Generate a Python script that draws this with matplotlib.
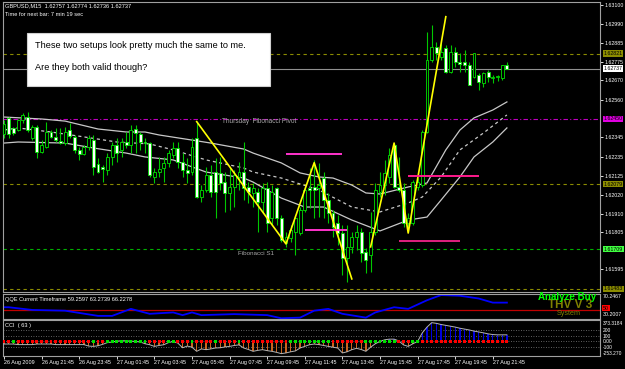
import matplotlib
matplotlib.use('Agg')
import matplotlib.pyplot as plt
import matplotlib.transforms as mtransforms
from matplotlib.patches import Rectangle

plt.rcParams['font.family'] = ['Liberation Sans', 'DejaVu Sans']

# ---------------- data ----------------
symbol_header = 'GBPUSD,M15  1.62757 1.62774 1.62736 1.62737'
timer_text = 'Time for next bar: 7 min 19 sec'

opens = [1.62364, 1.62456, 1.62399, 1.62387, 1.62444, 1.62461, 1.62342, 1.62404, 1.62262, 1.62291,
         1.62376, 1.62348, 1.62325, 1.62313, 1.62387, 1.62348, 1.62274, 1.62251, 1.62291, 1.62330,
         1.62194, 1.62177, 1.62160, 1.62234, 1.62302, 1.62274, 1.62319, 1.62302, 1.62393, 1.62364,
         1.62319, 1.62313, 1.62120, 1.62148, 1.62171, 1.62200, 1.62245, 1.62285, 1.62205, 1.62160,
         1.62148, 1.62342, 1.62006, 1.62046, 1.62131, 1.62148, 1.62143, 1.62091, 1.62029, 1.62063,
         1.62120, 1.62148, 1.62063, 1.62029, 1.62035, 1.61978, 1.62057, 1.61887, 1.62057, 1.61887,
         1.61744, 1.61773, 1.61807, 1.61801, 1.61932, 1.62057, 1.62063, 1.62057, 1.62114, 1.61989,
         1.61915, 1.61858, 1.61801, 1.61659, 1.61722, 1.61778, 1.61807, 1.61693, 1.61676, 1.61807,
         1.62035, 1.62074, 1.62120, 1.62302, 1.62063, 1.62046, 1.61858, 1.61858, 1.62063, 1.62074,
         1.62376, 1.62786, 1.62860, 1.62803, 1.62854, 1.62717, 1.62831, 1.62774, 1.62774, 1.62757,
         1.62689, 1.62700, 1.62655, 1.62717, 1.62683, 1.62689, 1.62683, 1.62757]
highs = [1.62444, 1.62461, 1.62404, 1.62450, 1.62484, 1.62490, 1.62416, 1.62416, 1.62330, 1.62433,
         1.62387, 1.62399, 1.62399, 1.62404, 1.62427, 1.62359, 1.62291, 1.62302, 1.62359, 1.62359,
         1.62228, 1.62188, 1.62256, 1.62319, 1.62342, 1.62342, 1.62376, 1.62416, 1.62416, 1.62376,
         1.62342, 1.62319, 1.62171, 1.62234, 1.62234, 1.62274, 1.62319, 1.62319, 1.62256, 1.62228,
         1.62342, 1.62433, 1.62074, 1.62177, 1.62188, 1.62228, 1.62234, 1.62148, 1.62171, 1.62160,
         1.62205, 1.62319, 1.62091, 1.62086, 1.62057, 1.62086, 1.62091, 1.62074, 1.62063, 1.61904,
         1.61807, 1.61847, 1.61904, 1.61949, 1.62063, 1.62171, 1.62217, 1.62200, 1.62148, 1.62029,
         1.61932, 1.61904, 1.61847, 1.61847, 1.61807, 1.61847, 1.61830, 1.61716, 1.61921, 1.62086,
         1.62148, 1.62217, 1.62285, 1.62313, 1.62234, 1.62086, 1.61915, 1.62103, 1.62114, 1.62387,
         1.62945, 1.62985, 1.62888, 1.62888, 1.62871, 1.62871, 1.62860, 1.62825, 1.62843, 1.62774,
         1.62825, 1.62712, 1.62717, 1.62729, 1.62700, 1.62700, 1.62757, 1.62774]
lows = [1.62342, 1.62342, 1.62359, 1.62382, 1.62427, 1.62376, 1.62330, 1.62228, 1.62256, 1.62285,
        1.62342, 1.62319, 1.62308, 1.62302, 1.62342, 1.62256, 1.62217, 1.62245, 1.62274, 1.62131,
        1.62143, 1.62091, 1.62131, 1.62188, 1.62205, 1.62234, 1.62285, 1.62256, 1.62256, 1.62274,
        1.62256, 1.62120, 1.62086, 1.62120, 1.62091, 1.62177, 1.62228, 1.62171, 1.62120, 1.62086,
        1.62131, 1.62000, 1.61978, 1.62035, 1.62006, 1.61887, 1.62046, 1.61921, 1.61932, 1.61949,
        1.62046, 1.61989, 1.61972, 1.61949, 1.61807, 1.61915, 1.61807, 1.61847, 1.61847, 1.61750,
        1.61722, 1.61750, 1.61676, 1.61790, 1.61921, 1.61944, 1.61887, 1.61892, 1.61887, 1.61858,
        1.61778, 1.61733, 1.61562, 1.61522, 1.61687, 1.61705, 1.61636, 1.61574, 1.61579, 1.61790,
        1.62006, 1.62017, 1.62086, 1.62057, 1.62035, 1.61835, 1.61807, 1.61847, 1.62046, 1.62063,
        1.62370, 1.62774, 1.62786, 1.62786, 1.62712, 1.62712, 1.62746, 1.62717, 1.62717, 1.62643,
        1.62683, 1.62615, 1.62632, 1.62660, 1.62655, 1.62666, 1.62672, 1.62736]
closes = [1.62421, 1.62364, 1.62370, 1.62444, 1.62473, 1.62387, 1.62404, 1.62262, 1.62302, 1.62376,
          1.62348, 1.62330, 1.62313, 1.62376, 1.62353, 1.62274, 1.62251, 1.62291, 1.62342, 1.62177,
          1.62148, 1.62165, 1.62234, 1.62302, 1.62256, 1.62319, 1.62302, 1.62387, 1.62370, 1.62319,
          1.62313, 1.62131, 1.62148, 1.62165, 1.62200, 1.62256, 1.62285, 1.62205, 1.62160, 1.62143,
          1.62291, 1.62006, 1.62046, 1.62131, 1.62035, 1.62035, 1.62086, 1.62029, 1.62063, 1.62131,
          1.62148, 1.62057, 1.62035, 1.62057, 1.61978, 1.62057, 1.61858, 1.62035, 1.61887, 1.61761,
          1.61778, 1.61818, 1.61887, 1.61932, 1.62046, 1.62046, 1.62046, 1.62074, 1.61989, 1.61915,
          1.61835, 1.61801, 1.61659, 1.61722, 1.61778, 1.61807, 1.61687, 1.61648, 1.61807, 1.62046,
          1.62074, 1.62143, 1.62245, 1.62063, 1.62046, 1.61858, 1.61887, 1.62091, 1.62091, 1.62376,
          1.62786, 1.62860, 1.62825, 1.62831, 1.62717, 1.62831, 1.62774, 1.62763, 1.62757, 1.62643,
          1.62825, 1.62660, 1.62712, 1.62689, 1.62689, 1.62695, 1.62757, 1.62737]

# envelope / moving-average band (bar index, price)
upper_k = [0, 8, 13, 20, 26, 30, 33, 40, 44, 51, 53, 59, 63, 67, 70, 74, 77, 80, 86, 90, 94, 97, 100, 104, 107]
upper_v = [1.62461, 1.62450, 1.62438, 1.62393, 1.62376, 1.62376, 1.62359, 1.62330, 1.62313, 1.62279,
           1.62256, 1.62200, 1.62143, 1.62120, 1.62114, 1.62074, 1.62029, 1.62023, 1.62063, 1.62086,
           1.62274, 1.62387, 1.62456, 1.62501, 1.62547]
mid_k = [0, 3, 10, 17, 24, 31, 36, 43, 51, 53, 59, 67, 74, 80, 86, 89, 93, 97, 102, 107]
mid_v = [1.62387, 1.62399, 1.62376, 1.62348, 1.62319, 1.62308, 1.62274, 1.62217, 1.62171, 1.62148,
         1.62114, 1.62046, 1.61949, 1.61921, 1.61972, 1.62006, 1.62120, 1.62274, 1.62370, 1.62473]
lower_k = [0, 3, 13, 19, 26, 30, 36, 43, 51, 53, 59, 64, 68, 74, 80, 86, 90, 93, 97, 100, 104, 107]
lower_v = [1.62313, 1.62319, 1.62313, 1.62285, 1.62256, 1.62234, 1.62217, 1.62148, 1.62114, 1.62091,
           1.62000, 1.61949, 1.61949, 1.61875, 1.61813, 1.61875, 1.61892, 1.61989, 1.62120, 1.62234,
           1.62319, 1.62399]

# hand-drawn zigzags
zz1_k = [41, 60, 66, 74]
zz1_v = [1.62435, 1.61739, 1.62201, 1.61540]
zz2_k = [78, 83, 86, 94]
zz2_v = [1.61722, 1.62313, 1.61801, 1.63032]

# magenta horizontal segments (start bar, end bar, price)
seg_start = [60, 64, 86, 84]
seg_end = [72, 73, 101, 97]
seg_price = [1.62251, 1.61817, 1.62126, 1.61758]
seg_color = ['#ff33cc', '#ff33cc', '#ff1a8c', '#e0207f']

# horizontal levels
olive_levels = [1.62821, 1.62079, 1.61483]
current_price = 1.62737
pivot_level = 1.62450
s1_level = 1.61709

price_ticks = [1.63100, 1.62990, 1.62885, 1.62775, 1.62670, 1.62560, 1.62345, 1.62235,
               1.62125, 1.62020, 1.61910, 1.61805, 1.61595]

# QQE
qqe_k = [0, 1, 6, 13, 20, 23, 27, 31, 36, 38, 40, 42, 49, 56, 59, 63, 66, 69, 72, 77, 79, 83, 86,
         90, 93, 97, 101, 104, 107]
qqe_v = [53.8, 53.8, 49.5, 48.3, 40.0, 40.0, 51.2, 43.3, 45.5, 41.2, 45.5, 41.2, 42.8, 41.2, 36.2,
         37.2, 48.3, 51.2, 43.3, 37.2, 45.5, 53.8, 51.2, 65.0, 73.3, 72.2, 67.8, 61.2, 61.2]
qqe_title = 'QQE Current Timeframe 59.2597 63.2739 66.2278'

# CCI(63)
cci = [-45, -45, -45, -55, -55, -55, -55, -45, -45, -45,
       -45, -55, -55, -55, -55, -55, -55, -55, -80, -86,
       -75, -50, -20, -10, 5, 12, 10, 5, 0, -10,
       -40, -57, -86, -70, -57, -20, 0, -29, -110, -80,
       -100, -172, -130, -143, -130, -114, -110, -95, -86, -70,
       -60, -114, -140, -172, -155, -143, -160, -172, -190, -212,
       -200, -180, -165, -114, -85, -57, -45, -55, -70, -86,
       -100, -114, -200, -180, -143, -120, -140, -172, -100, -40,
       0, 29, 40, 40, 10, -60, -86, -40, 0, 150,
       250, 327, 315, 295, 280, 265, 250, 230, 215, 200,
       180, 165, 150, 132, 120, 115, 115, 115]
cci_state = ['r', 'r', 'g', 'r', 'r', 'r', 'r', 'r', 'r', 'r',
             'r', 'r', 'r', 'r', 'r', 'r', 'r', 'r', 'r', 'g',
             'r', 'r', 'g', 'g', 'g', 'g', 'g', 'g', 'g', 'g',
             'g', 'r', 'r', 'r', 'r', 'g', 'g', 'r', 'r', 'r',
             'g', 'r', 'r', 'r', 'r', 'g', 'r', 'r', 'r', 'r',
             'g', 'r', 'r', 'r', 'r', 'r', 'r', 'r', 'r', 'r',
             'r', 'g', 'g', 'g', 'g', 'g', 'g', 'g', 'g', 'g',
             'r', 'r', 'r', 'r', 'r', 'r', 'r', 'g', 'g', 'g',
             'g', 'g', 'g', 'g', 'r', 'r', 'r', 'g', 'g', 'r',
             'r', 'r', 'r', 'r', 'r', 'r', 'r', 'r', 'r', 'r',
             'r', 'r', 'r', 'r', 'r', 'r', 'r', 'r']
cci_levels = [200, 100, 0, -100]

# time axis
date_k = [0, 8, 16, 24, 32, 40, 48, 56, 64, 72, 80, 88, 96, 104]
date_labels = ['26 Aug 2009', '26 Aug 21:45', '26 Aug 23:45', '27 Aug 01:45', '27 Aug 03:45',
               '27 Aug 05:45', '27 Aug 07:45', '27 Aug 09:45', '27 Aug 11:45', '27 Aug 13:45',
               '27 Aug 15:45', '27 Aug 17:45', '27 Aug 19:45', '27 Aug 21:45']

note_lines = ['These two setups look pretty much the same to me.', 'Are they both valid though?']

# ---------------- figure ----------------
W, H = 625, 369
fig = plt.figure(figsize=(W / 100, H / 100), dpi=100, facecolor='black')
SMALL = 4.1
AXIS = 3.75


def panel(top, bottom):
    return fig.add_axes([3 / W, 1 - bottom / H, 597 / W, (bottom - top) / H], facecolor='black')


ax = panel(2, 292)
axq = panel(294, 319)
axc = panel(320, 356)

XL = (-1 / 4.7, 596 / 4.7)
for a in (ax, axq, axc):
    a.set_xlim(*XL)
    for s in a.spines.values():
        s.set_color('#a0a0a0')
        s.set_linewidth(0.8)
    a.tick_params(axis='x', which='both', bottom=False, labelbottom=False)

# ---- main price panel ----
ax.set_ylim(1.614655, 1.631156)
n = len(opens)
idx = list(range(n))
ax.vlines(idx, lows, highs, color='#00c800', lw=0.8, zorder=3)
bottoms = [min(o, c) for o, c in zip(opens, closes)]
heights = [max(abs(c - o), 0.000012) for o, c in zip(opens, closes)]
fills = ['black' if c >= o else 'white' for o, c in zip(opens, closes)]
ax.bar(idx, heights, bottom=bottoms, width=0.62, color=fills, edgecolor='#00e000',
       linewidth=0.6, zorder=4)

ax.plot(upper_k, upper_v, color='#c8c8c8', lw=0.9, zorder=2)
ax.plot(mid_k, mid_v, color='#c8c8c8', lw=0.9, ls=(0, (2.5, 2.5)), zorder=2)
ax.plot(lower_k, lower_v, color='#c8c8c8', lw=0.9, zorder=2)

for lv in olive_levels:
    ax.axhline(lv, color='#8c8c00', lw=0.8, ls=(0, (3, 3)), zorder=1)
ax.axhline(current_price, color='#909090', lw=0.8, zorder=1)
ax.axhline(pivot_level, color='#c000c0', lw=0.8, ls=(0, (4, 2, 1, 2)), zorder=1)
ax.axhline(s1_level, color='#00b000', lw=0.8, ls=(0, (3, 3)), zorder=1)

ax.plot(zz1_k, zz1_v, color='#ffff00', lw=1.2, zorder=6)
ax.plot(zz2_k, zz2_v, color='#ffff00', lw=1.2, zorder=6)
for s, e, p, c in zip(seg_start, seg_end, seg_price, seg_color):
    ax.hlines(p, s, e, color=c, lw=1.4, zorder=6)

ax.text(46.4, 1.62436, 'Thursday  Fibonacci Pivot', color='#a8a8a8', fontsize=4.7,
        va='center', ha='left', zorder=5)
ax.text(49.8, 1.61685, 'Fibonacci S1', color='#a8a8a8', fontsize=4.5,
        va='center', ha='left', zorder=5)

ax.yaxis.tick_right()
ax.set_yticks(price_ticks)
ax.set_yticklabels([f'{v:.5f}' for v in price_ticks])
ax.tick_params(axis='y', colors='white', labelsize=AXIS, length=2, width=0.6, pad=1)

trans = mtransforms.blended_transform_factory(ax.transAxes, ax.transData)
boxes = [(olive_levels[0], '#8c8c00', 'black'), (current_price, 'white', 'black'),
         (pivot_level, '#e000e0', 'black'), (olive_levels[1], '#8c8c00', 'black'),
         (s1_level, '#40ff40', 'black'), (olive_levels[2], '#8c8c00', 'black')]
for lv, fc, tc in boxes:
    ax.text(1 + 3.5 / 597, lv, f'{lv:.5f}', transform=trans, fontsize=AXIS, color=tc,
            va='center', ha='left', clip_on=False, zorder=7,
            bbox=dict(boxstyle='square,pad=0.15', fc=fc, ec='none'))

# ---- QQE panel ----
axq.set_ylim(35, 75)
axq.set_yticks([])
axq.axhline(50, color='#c00000', lw=0.9)
axq.plot(qqe_k, qqe_v, color='#0000ff', lw=1.3)

# ---- CCI panel ----
axc.set_ylim(-253.27, 373.32)
axc.set_yticks([])
for lv in cci_levels:
    axc.axhline(lv, color='#808080', lw=0.6, ls=(0, (1, 2)), zorder=1)
bar_cols = ['#0000e0' if v >= 0 else '#c8641e' for v in cci]
axc.bar(idx, cci, width=0.28, color=bar_cols, zorder=2)
axc.plot(idx, cci, color='#b4b4b4', lw=0.7, zorder=3)
sq_cols = ['#ff0000' if s == 'r' else '#00e000' for s in cci_state]
axc.scatter(idx, [0] * n, marker='s', s=4.5, c=sq_cols, linewidths=0, zorder=4)

axc.tick_params(axis='x', bottom=True, labelbottom=True, colors='white', labelsize=3.9,
                length=2, width=0.6, pad=1)
axc.set_xticks(date_k)
axc.set_xticklabels(date_labels, ha='left')

# ---- texts ----
def ftext(px, py, s, **kw):
    fig.text(px / W, 1 - py / H, s, **kw)


ftext(5, 6, symbol_header, color='white', fontsize=SMALL, va='center')
ftext(5, 14, timer_text, color='white', fontsize=SMALL, va='center')
ftext(5, 299, qqe_title, color='white', fontsize=SMALL, va='center')
ftext(5, 326, 'CCI  ( 63 )', color='white', fontsize=SMALL, va='center')

ftext(603, 296, '70.2467', color='white', fontsize=AXIS, va='center')
ftext(603, 308, '50', color='black', fontsize=AXIS, va='center',
      bbox=dict(boxstyle='square,pad=0.1', fc='#ff0000', ec='none'))
ftext(603, 314.7, '30.2007', color='white', fontsize=AXIS, va='center')

for py, s in [(323.3, '373.3184'), (330, '200'), (336, '100'), (341.7, '0.00'),
              (347.7, '-100'), (353.3, '-253.270')]:
    ftext(602.5, py, s, color='white', fontsize=3.5, va='center')

ftext(570, 305, 'THV V 3', color='#808000', fontsize=8.5, fontweight='bold', ha='center',
      va='center', zorder=3)
ftext(567, 297.5, 'Analyze Buy', color='#00ff00', fontsize=7, fontweight='bold', ha='center',
      va='center', zorder=4)
ftext(569, 313.5, 'System', color='#808000', fontsize=5.2, ha='center', va='center', zorder=4)

# annotation box
fig.patches.append(Rectangle((27 / W, 1 - 86 / H), 243 / W, 53 / H, transform=fig.transFigure,
                             fc='white', ec='#d0d0d0', lw=0.8, zorder=10))
ftext(35, 46, note_lines[0], color='black', fontsize=6.6, va='center', zorder=11)
ftext(35, 68, note_lines[1], color='black', fontsize=6.6, va='center', zorder=11)

fig.savefig('out.png', dpi=100, facecolor='black')
